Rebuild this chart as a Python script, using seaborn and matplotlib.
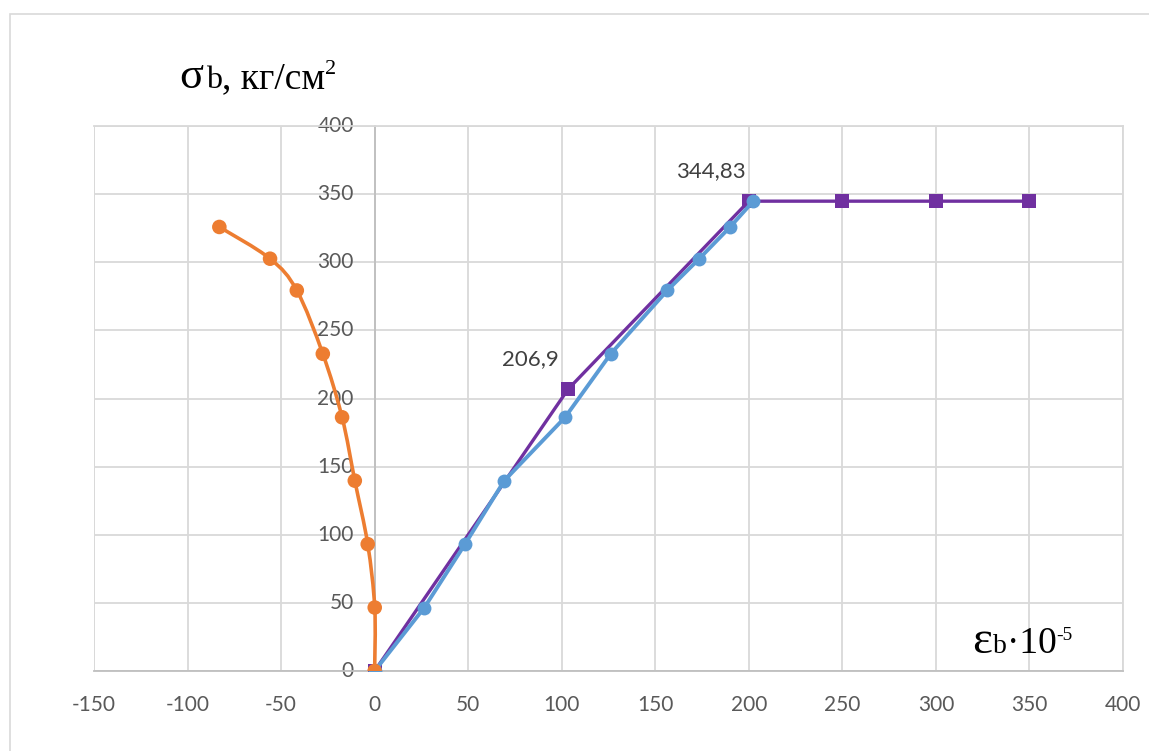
import numpy as np
import matplotlib
matplotlib.use("Agg")
import matplotlib.pyplot as plt
import seaborn as sns
from matplotlib.path import Path
from matplotlib.patches import PathPatch, Rectangle
from matplotlib.transforms import IdentityTransform

# ---- data ----
orange_x = [0, 0.05, -3.7, -10.6, -17.4, -27.7, -41.6, -55.9, -83.0]
orange_y = [0, 46.6, 93.1, 139.7, 186.2, 232.8, 279.3, 302.6, 325.9]

blue_x = [0, 26.6, 48.3, 69.3, 101.8, 126.2, 156.4, 173.5, 190.0, 202.4]
blue_y = [0, 46.6, 93.1, 139.7, 186.2, 232.8, 279.3, 302.6, 325.9, 344.83]

purple_x = [0, 103.45, 200, 250, 300, 350]
purple_y = [0, 206.9, 344.83, 344.83, 344.83, 344.83]

label_points = [(103.45, 206.9, "206,9"), (200, 344.83, "344,83")]

x_ticks = [-150, -100, -50, 0, 50, 100, 150, 200, 250, 300, 350, 400]
y_ticks = [0, 50, 100, 150, 200, 250, 300, 350, 400]

ORANGE = "#ED7D31"
BLUE = "#5B9BD5"
PURPLE = "#7030A0"
GRID = "#D9D9D9"
TICKC = "#595959"

sns.set_theme(style="white")
plt.rcParams['font.family'] = ['Lato', 'DejaVu Sans']
plt.rcParams['axes.unicode_minus'] = False

W, H = 1149, 751
fig = plt.figure(figsize=(W / 100, H / 100), dpi=100)
fig.patch.set_facecolor("white")

# outer chart border (cropped at right/bottom)
fig.patches.append(Rectangle((10 / W, -0.05), 1.2, 1 - 14 / H + 0.05,
                             transform=fig.transFigure, fill=False,
                             edgecolor=GRID, lw=1.2))

ax = fig.add_axes([94 / W, (H - 671) / H, 1029 / W, 545 / H])
ax.set_xlim(-150, 400)
ax.set_ylim(0, 400)
ax.set_xticks(x_ticks)
ax.set_yticks(y_ticks)
ax.grid(True, color=GRID, lw=1.3)
ax.set_axisbelow(True)

for s in ["top", "right", "bottom"]:
    ax.spines[s].set_color(GRID)
    ax.spines[s].set_linewidth(1.3)
ax.spines["bottom"].set_color("#BFBFBF")
ax.spines["left"].set_position(("data", 0))
ax.spines["left"].set_color("#BFBFBF")
ax.spines["left"].set_linewidth(1.3)

ax.tick_params(axis="both", length=0, labelsize=15, colors=TICKC)
ax.tick_params(axis="y", pad=15)
ax.tick_params(axis="x", pad=17)
for lab in ax.get_yticklabels():
    lab.set_verticalalignment("center")

# gridline at the left edge
ax.axvline(-150, color=GRID, lw=1.3, zorder=0.5)

# purple series
sns.lineplot(x=purple_x, y=purple_y, ax=ax, color=PURPLE, lw=2.4,
             marker="s", markersize=9.5, markeredgewidth=0, sort=False,
             estimator=None, zorder=3)
# blue series
sns.lineplot(x=blue_x, y=blue_y, ax=ax, color=BLUE, lw=2.8,
             marker="o", markersize=10, markeredgewidth=0, sort=False,
             estimator=None, zorder=4)

# orange series: smoothed line (Bezier through points, like Excel) + markers
fig.canvas.draw()
pts = ax.transData.transform(np.column_stack([orange_x, orange_y]))
n = len(pts)
verts = [pts[0]]
codes = [Path.MOVETO]
for i in range(n - 1):
    p0 = pts[i - 1] if i > 0 else pts[i]
    p1 = pts[i]
    p2 = pts[i + 1]
    p3 = pts[i + 2] if i + 2 < n else pts[i + 1]
    c1 = p1 + (p2 - p0) / 6.0
    c2 = p2 - (p3 - p1) / 6.0
    verts += [c1, c2, p2]
    codes += [Path.CURVE4] * 3
verts_data = ax.transData.inverted().transform(np.array(verts))
ax.add_patch(PathPatch(Path(verts_data, codes), fill=False, edgecolor=ORANGE,
                       lw=2.6, zorder=5, capstyle="round", joinstyle="round"))
sns.scatterplot(x=orange_x, y=orange_y, ax=ax, color=ORANGE, s=110,
                edgecolor="none", zorder=6)

# data labels
for (lx, ly, txt) in label_points:
    ax.annotate(txt, (lx, ly), xytext=(-38, 30), textcoords="offset pixels",
                ha="center", va="center", fontsize=16, color="#404040")

ax.set_xlabel("")
ax.set_ylabel("")

# rich axis titles built from runs
renderer = fig.canvas.get_renderer()
SERIF = ['Liberation Serif', 'DejaVu Serif']


def run(x, baseline, pieces):
    for txt, size, dy, gap in pieces:
        t = fig.text(x + gap, H - baseline + dy, txt, transform=IdentityTransform(),
                     fontsize=size, family=SERIF, color="black",
                     ha="left", va="baseline")
        bb = t.get_window_extent(renderer)
        x = bb.x1


run(179, 88, [("σ", 32, 0, 0), ("b", 23, 0, 3), (", кг/см", 27, 0, 0),
              ("2", 16, 14, 0)])
run(972, 653, [("ε", 34, 0, 0), ("b", 20, 0, 1), ("·10", 27, 0, 0),
               ("-5", 14, 13, 0)])

fig.savefig("out.png", dpi=100, facecolor="white")
